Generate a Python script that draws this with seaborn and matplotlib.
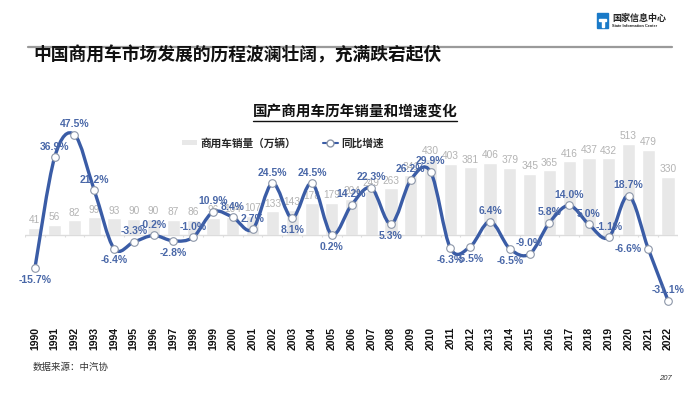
import numpy as np
import pandas as pd
import matplotlib
matplotlib.use("Agg")
import matplotlib.pyplot as plt
import seaborn as sns
from matplotlib.path import Path
from matplotlib.patches import PathPatch, Rectangle, Patch
from matplotlib.lines import Line2D

# 数据
years = [str(y) for y in range(1990, 2023)]
sales = [41, 56, 82, 99, 93, 90, 90, 87, 86, 96, 104, 107, 133, 143, 178, 179,
         204, 249, 263, 341, 430, 403, 381, 406, 379, 345, 365, 416, 437, 432,
         513, 479, 330]
growth = [-15.7, 36.9, 47.5, 21.2, -6.4, -3.3, -0.2, -2.8, -1.0, 10.9, 8.4, 2.7,
          24.5, 8.1, 24.5, 0.2, 14.2, 22.3, 5.3, 26.2, 29.9, -6.3, -5.5, 6.4,
          -6.5, -9.0, 5.8, 14.0, 5.0, -1.1, 18.7, -6.6, -31.1]
below_years = {"1990", "1994", "1997", "2003", "2005", "2008", "2011", "2012", "2014"}
left_years = {"2021"}

df = pd.DataFrame({"year": years, "sales": sales, "growth": growth})

sns.set_theme(style="white")
plt.rcParams['font.family'] = ['Noto Sans CJK SC', 'DejaVu Sans']
num_font = ['Liberation Sans', 'DejaVu Sans']

BLUE = '#3a5ca6'
LBLUE = '#4a68a8'
BARC = '#e8e8e8'

W, H = 700, 394
fig = plt.figure(figsize=(7, 3.94), dpi=100)

def fx(x): return x / W
def fy(y): return 1 - y / H

# 页眉
fig.add_artist(Line2D([fx(28), fx(672)], [fy(47), fy(47)], color='#9a9a9a', lw=1.6))
fig.text(fx(33), fy(55), '中国商用车市场发展的历程波澜壮阔，充满跌宕起伏',
         fontsize=12.8, fontweight='bold', va='center', ha='left', color='#111111')
# logo
fig.add_artist(Rectangle((fx(597), fy(28)), 11 / W, 15 / H, color='#1a7ac8'))
fig.add_artist(Rectangle((fx(599), fy(21)), 7 / W, 2 / H, color='white'))
fig.add_artist(Rectangle((fx(602), fy(27)), 2 / W, 6 / H, color='white'))
fig.text(fx(612), fy(18), '国家信息中心', fontsize=6.5, fontweight='bold', va='center', color='#222222')
fig.text(fx(612), fy(26), 'State Information Center', fontsize=2.8, fontweight='bold',
         va='center', color='#222222', family=num_font)

# 图表标题
fig.text(fx(355), fy(112), '国产商用车历年销量和增速变化', fontsize=10.5, fontweight='bold',
         ha='center', va='center', color='#111111')
fig.add_artist(Line2D([fx(253), fx(457)], [fy(121), fy(121)], color='#111111', lw=1.0))

# 主图
ax = fig.add_axes([fx(25), fy(310), 653 / W, 185 / H])
sns.barplot(data=df, x='year', y='sales', color=BARC, width=0.67, ax=ax, saturation=1)
ax.set_ylim(-424, 621)
ax.set_xlim(-0.5, len(years) - 0.5)
ax.bar_label(ax.containers[0], padding=2, color='#b3b3b3', fontsize=7.3, family=num_font)
ax.axhline(0, color='#dcdcdc', lw=1.0)
bounds = np.arange(-0.5, len(years), 1.0)
ax.vlines(bounds, -12, 0, color='#dcdcdc', lw=0.8)
ax.set_xlabel('')
ax.set_ylabel('')
ax.set_yticks([])
ax.tick_params(axis='x', length=0, pad=12)
ax.set_xticks(range(len(years)))
ax.set_xticklabels(years, rotation=90, va='top', fontsize=7.5, fontweight='bold',
                   family=num_font, color='#111111')
for s in ax.spines.values():
    s.set_visible(False)

ax2 = ax.twinx()
ax2.set_ylim(-35.5, 52.1)
xs = np.arange(len(years), dtype=float)
ys = np.array(growth, dtype=float)

# 平滑曲线（Catmull-Rom 贝塞尔）
verts = [(xs[0], ys[0])]
codes = [Path.MOVETO]
n = len(xs)
for i in range(n - 1):
    p0 = np.array([xs[max(i - 1, 0)], ys[max(i - 1, 0)]])
    p1 = np.array([xs[i], ys[i]])
    p2 = np.array([xs[i + 1], ys[i + 1]])
    p3 = np.array([xs[min(i + 2, n - 1)], ys[min(i + 2, n - 1)]])
    c1 = p1 + (p2 - p0) / 6
    c2 = p2 - (p3 - p1) / 6
    verts += [tuple(c1), tuple(c2), tuple(p2)]
    codes += [Path.CURVE4] * 3
ax2.add_patch(PathPatch(Path(verts, codes), facecolor='none', edgecolor=BLUE, lw=2.4,
                        capstyle='round', joinstyle='round', zorder=3))
sns.scatterplot(x=xs, y=ys, ax=ax2, s=30, color='white', edgecolor='#8c96a8',
                linewidth=0.8, zorder=4)
ax2.set_xlim(-0.5, len(years) - 0.5)
ax2.set_yticks([])
ax2.set_ylabel('')
for s in ax2.spines.values():
    s.set_visible(False)

for x, y, yr in zip(xs, ys, years):
    lab = f'{y:.1f}%'
    if yr in below_years:
        ax2.annotate(lab, (x, y), xytext=(0, -5), textcoords='offset points', ha='center',
                     va='top', fontsize=7.5, fontweight='bold', color=LBLUE, family=num_font, zorder=5)
    elif yr in left_years:
        ax2.annotate(lab, (x, y), xytext=(-5, 0), textcoords='offset points', ha='right',
                     va='center', fontsize=7.5, fontweight='bold', color=LBLUE, family=num_font, zorder=5)
    else:
        ax2.annotate(lab, (x, y), xytext=(0, 4), textcoords='offset points', ha='center',
                     va='bottom', fontsize=7.5, fontweight='bold', color=LBLUE, family=num_font, zorder=5)

# 图例
handles = [Patch(facecolor=BARC, edgecolor='none'),
           Line2D([], [], color=BLUE, lw=1.5, marker='o', markersize=5,
                  markerfacecolor='white', markeredgecolor='#8c96a8')]
leg = fig.legend(handles, ['商用车销量（万辆）', '同比增速'], ncol=2, frameon=False,
                 loc='center', bbox_to_anchor=(fx(283), fy(143)), fontsize=7.7,
                 handlelength=1.4, handleheight=0.4, columnspacing=2.5, handletextpad=0.3)
for t in leg.get_texts():
    t.set_fontweight('bold')

# 来源
fig.text(fx(33), fy(367), '数据来源：中汽协', fontsize=6.8, va='center', color='#333333')
fig.text(fx(672), fy(378), '207', fontsize=5.5, va='center', ha='right', style='italic',
         color='#333333', family=num_font)

fig.savefig('out.png', dpi=100)
